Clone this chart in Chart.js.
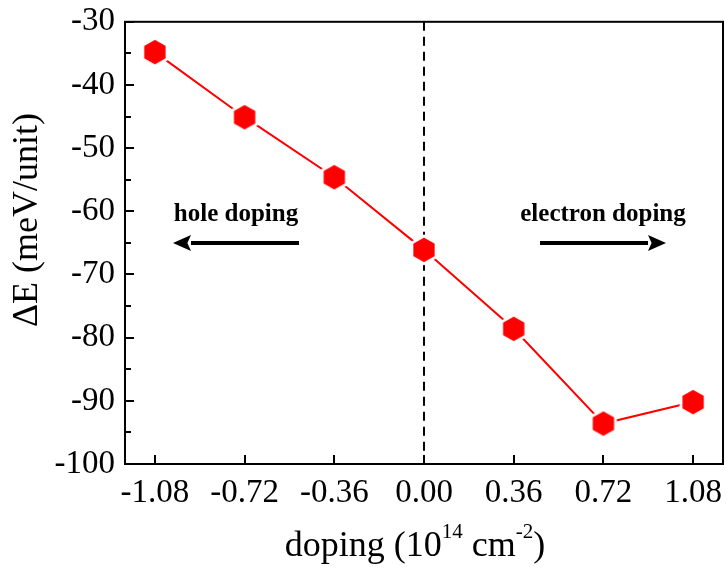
<!DOCTYPE html>
<html>
<head>
<meta charset="utf-8">
<script src="https://cdn.jsdelivr.net/npm/chart.js@4/dist/chart.umd.min.js"></script>
<style>
html,body{margin:0;padding:0;background:#fff;}
canvas{display:block;}
</style>
</head>
<body>
<canvas id="c" width="727" height="570"></canvas>
<script>
const dopingValues = [-1.08, -0.72, -0.36, 0.00, 0.36, 0.72, 1.08];
const deltaE = [-34.8, -45.1, -54.6, -66.1, -78.6, -93.6, -90.2];
const xTickValues = [-1.08, -0.72, -0.36, 0.00, 0.36, 0.72, 1.08];
const yTickValues = [-100, -90, -80, -70, -60, -50, -40, -30];
const yMinorValues = [-95, -85, -75, -65, -55, -45, -35];

const SERIF = '"Liberation Serif", "Times New Roman", serif';

function hexImage(){
  const size = 36;
  const cv = document.createElement('canvas');
  cv.width = size; cv.height = size;
  const g = cv.getContext('2d');
  function hex(r){
    g.beginPath();
    for(let i=0;i<6;i++){
      const a = -Math.PI/2 + i*Math.PI/3;
      const px = size/2 + r*Math.cos(a), py = size/2 + r*Math.sin(a);
      if(i===0) g.moveTo(px,py); else g.lineTo(px,py);
    }
    g.closePath();
  }
  g.fillStyle = '#ffffff'; hex(15.5); g.fill();
  g.fillStyle = '#ff0000'; hex(12.3); g.fill();
  return cv;
}

const deco = {
  id: 'deco',
  beforeDatasetsDraw(chart){
    const ctx = chart.ctx, ca = chart.chartArea, xs = chart.scales.x;
    const x0 = Math.round(xs.getPixelForValue(0));
    ctx.save();
    ctx.strokeStyle = '#000'; ctx.lineWidth = 2; ctx.setLineDash([9,6]);
    ctx.beginPath(); ctx.moveTo(x0, ca.top); ctx.lineTo(x0, ca.bottom); ctx.stroke();
    ctx.restore();
  },
  afterDraw(chart){
    const ctx = chart.ctx, ca = chart.chartArea, xs = chart.scales.x, ys = chart.scales.y;
    ctx.save();
    ctx.strokeStyle = '#000'; ctx.lineWidth = 2;
    ctx.strokeRect(ca.left, ca.top, ca.right-ca.left, ca.bottom-ca.top);
    ctx.beginPath();
    xTickValues.forEach(v=>{
      const px = Math.round(xs.getPixelForValue(v));
      ctx.moveTo(px, ca.bottom); ctx.lineTo(px, ca.bottom-9);
    });
    yTickValues.forEach(v=>{
      const py = Math.round(ys.getPixelForValue(v));
      ctx.moveTo(ca.left, py); ctx.lineTo(ca.left+9, py);
    });
    yMinorValues.forEach(v=>{
      const py = Math.round(ys.getPixelForValue(v));
      ctx.moveTo(ca.left, py); ctx.lineTo(ca.left+6, py);
    });
    ctx.stroke();

    // y title
    ctx.fillStyle = '#000';
    ctx.save();
    ctx.translate(28, 220);
    ctx.rotate(-Math.PI/2);
    ctx.font = '36px ' + SERIF;
    ctx.textAlign = 'center'; ctx.textBaseline = 'middle';
    ctx.fillText('\u0394E (meV/unit)', 0, 0);
    ctx.restore();

    // x title with superscripts
    const parts = [
      {t:'doping (10', f:'36px ' + SERIF, dy:0},
      {t:'14', f:'21px ' + SERIF, dy:-18},
      {t:' cm', f:'36px ' + SERIF, dy:0},
      {t:'-2', f:'21px ' + SERIF, dy:-18},
      {t:')', f:'36px ' + SERIF, dy:0}
    ];
    let total = 0;
    parts.forEach(p=>{ctx.font = p.f; p.w = ctx.measureText(p.t).width; total += p.w;});
    let x = 415 - total/2;
    const base = 556;
    ctx.textAlign = 'left'; ctx.textBaseline = 'alphabetic';
    parts.forEach(p=>{ctx.font = p.f; ctx.fillText(p.t, x, base + p.dy); x += p.w;});

    // annotations
    ctx.font = 'bold 25px ' + SERIF;
    ctx.textAlign = 'center'; ctx.textBaseline = 'middle';
    ctx.fillText('hole doping', 236, 215);
    ctx.fillText('electron doping', 603, 215);

    function arrow(x1, x2, y){
      const dir = Math.sign(x2 - x1);
      const headLen = 18, half = 8;
      ctx.lineWidth = 4; ctx.lineCap = 'butt';
      ctx.beginPath(); ctx.moveTo(x1, y); ctx.lineTo(x2 - dir*headLen, y); ctx.stroke();
      ctx.beginPath();
      ctx.moveTo(x2, y);
      ctx.lineTo(x2 - dir*headLen, y - half);
      ctx.lineTo(x2 - dir*headLen*0.8, y);
      ctx.lineTo(x2 - dir*headLen, y + half);
      ctx.closePath(); ctx.fill();
    }
    arrow(299, 173, 243);
    arrow(540, 666, 243);
    ctx.restore();
  }
};

const pts = dopingValues.map((v,i)=>({x:v, y:deltaE[i]}));

new Chart(document.getElementById('c'), {
  type: 'scatter',
  data: {
    datasets: [{
      data: pts,
      showLine: true,
      borderColor: '#ff0000',
      borderWidth: 2,
      pointStyle: hexImage(),
      pointRadius: 12,
      pointHoverRadius: 12
    }]
  },
  options: {
    responsive: false,
    devicePixelRatio: 1,
    animation: false,
    events: [],
    layout: {autoPadding: false, padding: {top: 8, right: 4, left: 0, bottom: 0}},
    plugins: {legend: {display: false}, tooltip: {enabled: false}},
    scales: {
      x: {
        type: 'linear', min: -1.2, max: 1.2,
        afterBuildTicks(s){ s.ticks = xTickValues.map(v=>({value:v})); },
        afterFit(s){ s.height = 106; },
        grid: {display: false},
        border: {display: false},
        ticks: {
          color: '#000', font: {family: SERIF, size: 33}, padding: 2,
          maxRotation: 0, autoSkip: false,
          callback: v => v.toFixed(2)
        }
      },
      y: {
        type: 'linear', min: -100, max: -30,
        afterBuildTicks(s){ s.ticks = yTickValues.map(v=>({value:v})); },
        afterFit(s){ s.width = 125; },
        grid: {display: false},
        border: {display: false},
        ticks: {
          color: '#000', font: {family: SERIF, size: 33}, padding: 2,
          callback: v => String(v)
        }
      }
    }
  },
  plugins: [deco]
});
</script>
</body>
</html>
